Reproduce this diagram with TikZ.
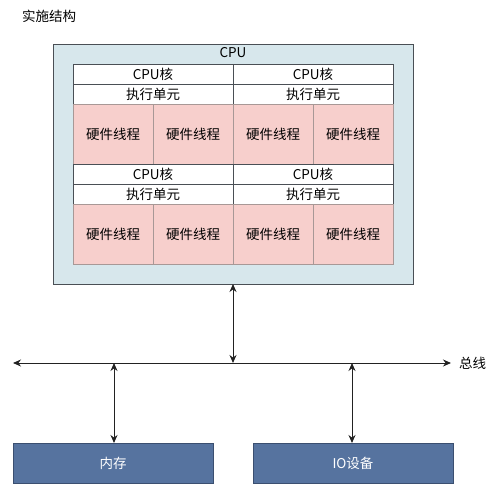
\documentclass[tikz,border=0pt]{standalone}
\usepackage{fontspec}
\setmainfont{Noto Sans CJK SC}
\usetikzlibrary{arrows.meta}
\definecolor{cpufill}{HTML}{D7E7EC}
\definecolor{cpuline}{HTML}{4A4F55}
\definecolor{pinkfill}{HTML}{F7CFCC}
\definecolor{pinkline}{HTML}{A89896}
\definecolor{devfill}{HTML}{56739F}
\definecolor{devline}{HTML}{3B4F70}
\definecolor{linec}{HTML}{222222}
\tikzset{
  txt/.style={font=\fontsize{13.5}{15}\selectfont},
  cpubox/.style={draw=cpuline, fill=cpufill, line width=0.8pt, inner sep=0pt, outer sep=0pt,
    minimum width=360pt, minimum height=240pt, anchor=north west},
  corebox/.style={txt, draw=cpuline, fill=white, line width=0.6pt, inner sep=0pt, outer sep=0pt,
    minimum width=160pt, minimum height=20pt, anchor=north west},
  threadbox/.style={txt, draw=pinkline, fill=pinkfill, line width=0.6pt, inner sep=0pt, outer sep=0pt,
    minimum width=80pt, minimum height=60pt, anchor=north west},
  devbox/.style={txt, draw=devline, fill=devfill, line width=0.8pt, inner sep=0pt, outer sep=0pt,
    minimum width=200pt, minimum height=40pt, anchor=north west, text=white},
  link/.style={draw=linec, line width=1pt, {Stealth[length=8pt,width=7pt]}-{Stealth[length=8pt,width=7pt]}},
  lbl/.style={txt, inner sep=0pt}
}
\begin{document}
\begin{tikzpicture}[x=1pt,y=-1pt]
\useasboundingbox (0,0) rectangle (496,492);
\node[lbl, anchor=west] (title) at (22,16) {实施结构};
\node[cpubox] (cpu) at (53,44) {};
\node[lbl] (cpulbl) at (233,53) {CPU};
% top-left core
\node[corebox] (c1) at (73,64) {CPU核};
\node[corebox] (e1) at (73,84) {执行单元};
\node[threadbox] (t11) at (73,104) {硬件线程};
\node[threadbox] (t12) at (153,104) {硬件线程};
% top-right core
\node[corebox] (c2) at (233,64) {CPU核};
\node[corebox] (e2) at (233,84) {执行单元};
\node[threadbox] (t21) at (233,104) {硬件线程};
\node[threadbox] (t22) at (313,104) {硬件线程};
% bottom-left core
\node[corebox] (c3) at (73,164) {CPU核};
\node[corebox] (e3) at (73,184) {执行单元};
\node[threadbox] (t31) at (73,204) {硬件线程};
\node[threadbox] (t32) at (153,204) {硬件线程};
% bottom-right core
\node[corebox] (c4) at (233,164) {CPU核};
\node[corebox] (e4) at (233,184) {执行单元};
\node[threadbox] (t41) at (233,204) {硬件线程};
\node[threadbox] (t42) at (313,204) {硬件线程};
% devices
\node[devbox] (mem) at (13,443) {内存};
\node[devbox] (io) at (253,443) {IO设备};
% bus
\coordinate (busL) at (13,363);
\coordinate (busR) at (451,363);
\coordinate (bc) at (233,363);
\coordinate (bm) at (114,363);
\coordinate (bi) at (352,363);
\node[lbl, anchor=west] (buslbl) at (459,363) {总线};
\draw[link] (busL) -- (busR);
\draw[link] (cpu.south) -- (bc);
\draw[link] (bm) -- (mem.north -| bm);
\draw[link] (bi) -- (io.north -| bi);
\end{tikzpicture}
\end{document}
